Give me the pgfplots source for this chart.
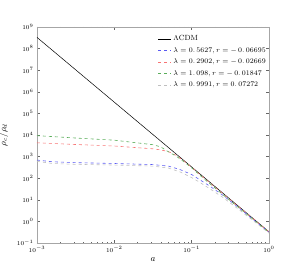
\documentclass[border=0pt]{standalone}
\usepackage{pgfplots}
\pgfplotsset{compat=1.18}
\definecolor{cblue}{rgb}{0.35,0.35,0.95}
\definecolor{cred}{rgb}{0.97,0.45,0.45}
\definecolor{cgreen}{rgb}{0.35,0.68,0.35}
\definecolor{cgray}{rgb}{0.75,0.75,0.75}
\begin{document}
\begin{tikzpicture}[x=1bp,y=1bp]
\useasboundingbox (0,0) rectangle (300,270);
\begin{axis}[
  at={(37bp,27bp)}, anchor=south west,
  scale only axis, width=232bp, height=216bp,
  xmode=log, ymode=log,
  xmin=1e-3, xmax=1, ymin=1e-1, ymax=1e9,
  xtick={1e-3,1e-2,1e-1,1},
  ytick={1e-1,1,1e1,1e2,1e3,1e4,1e5,1e6,1e7,1e8,1e9},
  yminorticks=false,
  tick align=inside,
  axis line style={gray!70, line width=0.9pt},
  major tick length=3bp, minor tick length=1.5bp,
  tick style={gray!80!black, line width=0.4pt},
  tick label style={font=\fontsize{6}{7}\selectfont},
  xlabel={$a$}, ylabel={$\rho_c/\rho_d$},
  label style={font=\small},
  xlabel style={yshift=2bp},
  ylabel style={yshift=2bp},
  legend style={draw=none, fill=none, at={(1.0,0.975)}, anchor=north east,
    font=\fontsize{7.5}{9}\selectfont, row sep=1.2bp, inner sep=1bp},
  legend cell align=left,
  legend image post style={xscale=0.75},
]
\addplot[black, line width=0.5pt] coordinates {(0.001,3.3e8) (1,0.33)};
\addlegendentry{$\Lambda$CDM}
\addplot[cblue, dashed, line width=0.6pt] coordinates {
(0.001,692) (0.001585,575) (0.003162,525) (0.01,479) (0.03162,427)
(0.05012,363) (0.07079,251) (0.1,148) (0.1259,87) (0.1738,41.7)
(0.2512,16.6) (0.3981,4.57) (0.631,1.20) (1,0.316)};
\addlegendentry{$\lambda=0.\,5627, r=-\,0.\,06695$}
\addplot[cred, dashed, line width=0.6pt] coordinates {
(0.001,4365) (0.003162,3631) (0.01,3090) (0.03162,2291) (0.03981,2042)
(0.05012,1698) (0.0631,1148) (0.07943,631) (0.1,316) (0.1259,155)
(0.1585,77.6) (0.2512,19.5) (0.3981,5.01) (0.631,1.29) (1,0.324)};
\addlegendentry{$\lambda=0.\,2902, r=-\,0.\,02669$}
\addplot[cgreen, dashed, line width=0.6pt] coordinates {
(0.001,9333) (0.003162,7244) (0.01,5754) (0.03162,3548) (0.03981,2818)
(0.05012,1660) (0.0631,1047) (0.07943,575) (0.1,302) (0.1259,145)
(0.1585,70.8) (0.2512,17.8) (0.3981,4.57) (0.631,1.20) (1,0.309)};
\addlegendentry{$\lambda=1.\,098, r=-\,0.\,01847$}
\addplot[cgray, dashed, line width=0.6pt] coordinates {
(0.001,603) (0.001585,479) (0.003162,437) (0.01,407) (0.03162,363)
(0.05012,295) (0.07079,195) (0.1,107) (0.1259,66) (0.1738,31.6)
(0.2512,13.2) (0.3981,3.80) (0.631,1.05) (1,0.288)};
\addlegendentry{$\lambda=0.\,9991, r=0.\,07272$}
\end{axis}
\end{tikzpicture}
\end{document}
